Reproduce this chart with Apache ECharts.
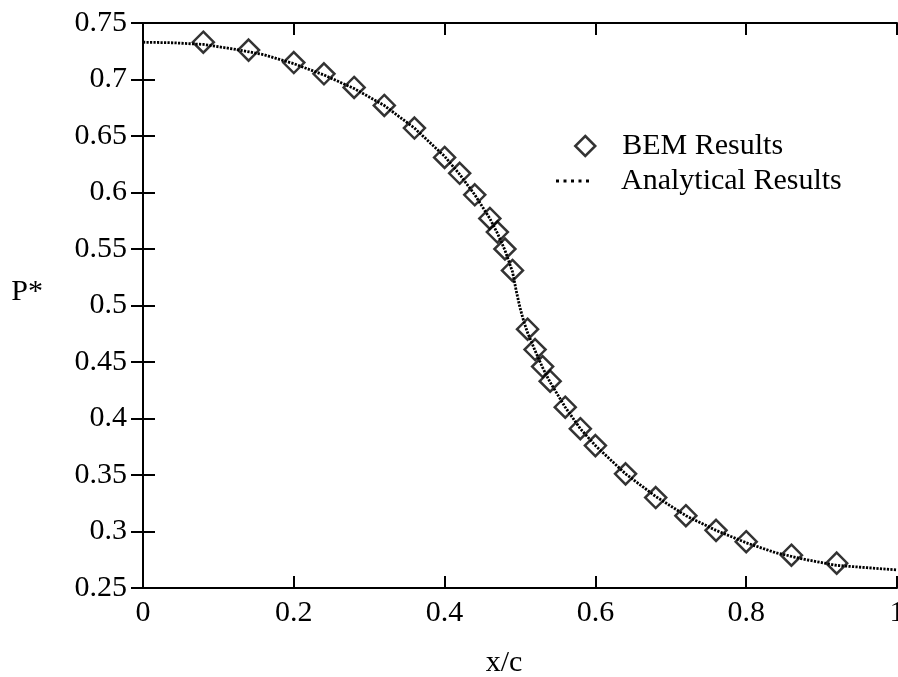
<!DOCTYPE html>
<html>
<head>
<meta charset="utf-8">
<script src="https://cdn.jsdelivr.net/npm/echarts@6/dist/echarts.min.js"></script>
<style>
html,body{margin:0;padding:0;background:#fff;overflow:hidden;}
#c{width:898px;height:677px;}
</style>
</head>
<body>
<div id="c"></div>
<script>
// BEM results (diamonds)
var bemX = [0.08,0.14,0.20,0.24,0.28,0.32,0.36,0.40,0.42,0.44,0.46,0.47,0.48,0.49,0.51,0.52,0.53,0.54,0.56,0.58,0.60,0.64,0.68,0.72,0.76,0.80,0.86,0.92];
var bemY = [0.733,0.726,0.715,0.705,0.693,0.677,0.657,0.631,0.617,0.598,0.577,0.565,0.550,0.531,0.479,0.461,0.446,0.433,0.410,0.391,0.376,0.351,0.330,0.314,0.301,0.291,0.279,0.272];
// Analytical results (dotted curve)
var anaX = [0.00,0.04,0.08,0.12,0.16,0.20,0.24,0.28,0.32,0.36,0.40,0.42,0.44,0.46,0.47,0.48,0.49,0.495,0.50,0.505,0.51,0.52,0.53,0.54,0.56,0.58,0.60,0.64,0.68,0.72,0.76,0.80,0.84,0.88,0.92,0.96,1.00];
var anaY = [0.733,0.7325,0.731,0.727,0.722,0.714,0.704,0.692,0.677,0.657,0.632,0.616,0.598,0.577,0.564,0.549,0.530,0.513,0.498,0.486,0.476,0.460,0.445,0.432,0.410,0.391,0.376,0.351,0.331,0.314,0.301,0.290,0.281,0.275,0.270,0.268,0.266];
var xTicks = [0,0.2,0.4,0.6,0.8,1];
var yTicks = [0.25,0.3,0.35,0.4,0.45,0.5,0.55,0.6,0.65,0.7,0.75];

var FONT = 'Liberation Serif';
var bemData = bemX.map(function(x,i){return [x,bemY[i]];});
var anaData = anaX.map(function(x,i){return [x,anaY[i]];});

var axisLine = {show:true, lineStyle:{color:'#000', width:2}};
var tick = {show:true, inside:true, length:12, lineStyle:{color:'#000', width:2}};
var fmt = function(v){return String(+v.toFixed(2));};

var chart = echarts.init(document.getElementById('c'), null, {renderer:'canvas'});
chart.setOption({
  backgroundColor:'#fff',
  animation:false,
  grid:{left:143, right:1, top:23, bottom:89, containLabel:false, outerBoundsMode:'none'},
  xAxis:[{
    type:'value', min:xTicks[0], max:xTicks[xTicks.length-1], interval:0.2, position:'bottom',
    axisLine:axisLine, axisTick:tick, splitLine:{show:false},
    axisLabel:{color:'#000', fontFamily:FONT, fontSize:30, margin:10, formatter:fmt},
    name:'x/c', nameLocation:'middle', nameGap:60,
    nameTextStyle:{color:'#000', fontFamily:FONT, fontSize:30, padding:[0,32,0,0]}
  },{
    type:'value', min:xTicks[0], max:xTicks[xTicks.length-1], interval:0.2, position:'top',
    axisLine:axisLine, axisTick:tick, splitLine:{show:false}, axisLabel:{show:false}
  }],
  yAxis:[{
    type:'value', min:yTicks[0], max:yTicks[yTicks.length-1], interval:0.05, position:'left',
    axisLine:axisLine, axisTick:tick, splitLine:{show:false},
    axisLabel:{color:'#000', fontFamily:FONT, fontSize:30, margin:16, formatter:fmt},
    name:'P*', nameLocation:'middle', nameRotate:0, nameGap:100,
    nameTextStyle:{color:'#000', fontFamily:FONT, fontSize:30, verticalAlign:'bottom', lineHeight:26}
  },{
    type:'value', min:yTicks[0], max:yTicks[yTicks.length-1], interval:0.05, position:'right',
    axisLine:axisLine, axisTick:tick, splitLine:{show:false}, axisLabel:{show:false}
  }],
  legend:[{
    data:['BEM Results'], orient:'vertical', left:569, top:126,
    itemWidth:20, itemHeight:20, symbolKeepAspect:true,
    itemStyle:{color:'rgba(0,0,0,0)', borderColor:'#000', borderWidth:2.5},
    textStyle:{color:'#000', fontFamily:FONT, fontSize:30, padding:[0,0,0,22]}
  },{
    data:[{name:'Analytical Results',
      icon:'path://M0,0h3v3h-3zM7.5,0h3v3h-3zM15,0h3v3h-3zM22.5,0h3v3h-3zM30,0h3v3h-3z',
      itemStyle:{color:'#000'}}],
    orient:'vertical', left:551, top:161,
    itemWidth:33, itemHeight:3, symbolKeepAspect:false,
    textStyle:{color:'#000', fontFamily:FONT, fontSize:30, padding:[0,0,0,27]}
  }],
  series:[{
    name:'Analytical Results', type:'line', data:anaData, showSymbol:false, symbol:'none',
    smooth:false,
    lineStyle:{color:'#000', width:2.8, type:[2.2,1.3]},
    itemStyle:{color:'#000'}, z:2
  },{
    name:'BEM Results', type:'scatter', data:bemData, symbol:'diamond', symbolSize:21,
    itemStyle:{color:'rgba(0,0,0,0)', borderColor:'#000', borderWidth:2.5}, z:3
  }]
});
</script>
</body>
</html>
